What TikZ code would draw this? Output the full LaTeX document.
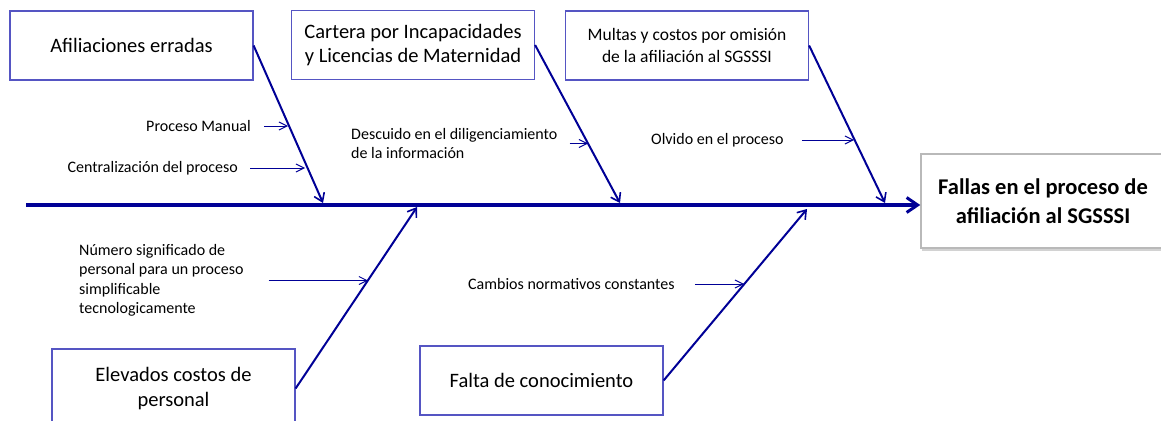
\documentclass[tikz,border=0pt]{standalone}
\usepackage{fontspec}
\setmainfont{Carlito}
\usetikzlibrary{arrows.meta}
\usetikzlibrary{shapes}
\usetikzlibrary{shadows}
\definecolor{boxblue}{RGB}{85,85,195}
\definecolor{lineblue}{RGB}{0,0,150}

\begin{document}
\begin{tikzpicture}[x = 1pt, y = -1pt]
	\tikzstyle{causeStyle} = [shape = rectangle, draw = boxblue, line width = 1.2pt, minimum width = 243pt, minimum height = 69pt, inner sep = 0pt, align = center, font = \fontsize{20.5}{24.5}\selectfont]
	\tikzstyle{effectStyle} = [shape = rectangle, draw = gray!55, line width = 1.5pt, fill = white, minimum width = 244pt, minimum height = 94pt, inner sep = 0pt, align = center, font = \fontsize{22.5}{29}\selectfont\bfseries, drop shadow = {shadow xshift = 1pt, shadow yshift = -3pt, fill = gray!70}]
	\tikzstyle{labelStyle} = [inner sep = 0pt, align = left, font = \fontsize{16}{19.5}\selectfont]
	\tikzstyle{spineStyle} = [draw = lineblue, line width = 4pt, -{Straight Barb[length = 11pt, width = 15pt, line width = 3pt]}]
	\tikzstyle{boneStyle} = [draw = lineblue, line width = 2pt, -{Straight Barb[length = 8pt, width = 11pt, line width = 1.6pt]}]
	\tikzstyle{subStyle} = [draw = lineblue, line width = 1pt, -{Straight Barb[length = 8pt, width = 8pt, line width = 1pt]}]
	\clip (0, 0) rectangle (1161, 420);
	\node[causeStyle] (b0) at (131.5, 45.5) {Afiliaciones erradas};
	\node[causeStyle] (b1) at (413, 45) {Cartera por Incapacidades\\y Licencias de Maternidad};
	\node[causeStyle, font = \fontsize{17.5}{22.5}\selectfont] (b2) at (687, 45.5) {Multas y costos por omisión\\de la afiliación al SGSSSI};
	\node[causeStyle, minimum height = 79pt] (b3) at (173.5, 388.5) {Elevados costos de\\personal};
	\node[causeStyle] (b4) at (541.5, 380.5) {Falta de conocimiento};
	\node[effectStyle] (e0) at (1043, 201) {Fallas en el proceso de\\afiliación al SGSSSI};
	\node[labelStyle, anchor = east] (c0) at (251, 126) {Proceso Manual};
	\node[labelStyle, anchor = east] (c1) at (238, 168) {Centralización del proceso};
	\node[labelStyle, anchor = west] (c2) at (351, 143.5) {Descuido en el diligenciamiento\\de la información};
	\node[labelStyle, anchor = west] (c3) at (651, 140) {Olvido en el proceso};
	\node[labelStyle, anchor = west] (c4) at (79, 280.5) {Número significado de\\personal para un proceso\\simplificable\\tecnologicamente};
	\node[labelStyle, anchor = west] (c5) at (468, 284) {Cambios normativos constantes};
	\coordinate (s0) at (26, 205);
	\coordinate (t0) at (323, 203);
	\coordinate (t1) at (620, 203);
	\coordinate (t2) at (885, 203);
	\coordinate (t3) at (417, 207);
	\coordinate (t4) at (807, 209);
	\coordinate (p0) at (288, 126);
	\coordinate (p1) at (305, 168);
	\coordinate (p2) at (588, 143.5);
	\coordinate (p3) at (854, 140);
	\coordinate (p4) at (368, 280.5);
	\coordinate (p5) at (744, 284);
	\draw[spineStyle] (s0) -- (s0 -| e0.west);
	\draw[boneStyle] (b0.east) -- (t0);
	\draw[boneStyle] (b1.east) -- (t1);
	\draw[boneStyle] (b2.east) -- (t2);
	\draw[boneStyle] (b3.east) -- (t3);
	\draw[boneStyle] (b4.east) -- (t4);
	\draw[subStyle] ([xshift = 13pt]c0.east) -- (p0);
	\draw[subStyle] ([xshift = 12pt]c1.east) -- (p1);
	\draw[subStyle] ([xshift = 12pt]c2.east) -- (p2);
	\draw[subStyle] ([xshift = 18pt]c3.east) -- (p3);
	\draw[subStyle] ([xshift = 25pt]c4.east) -- (p4);
	\draw[subStyle] ([xshift = 20pt]c5.east) -- (p5);
\end{tikzpicture}
\end{document}
